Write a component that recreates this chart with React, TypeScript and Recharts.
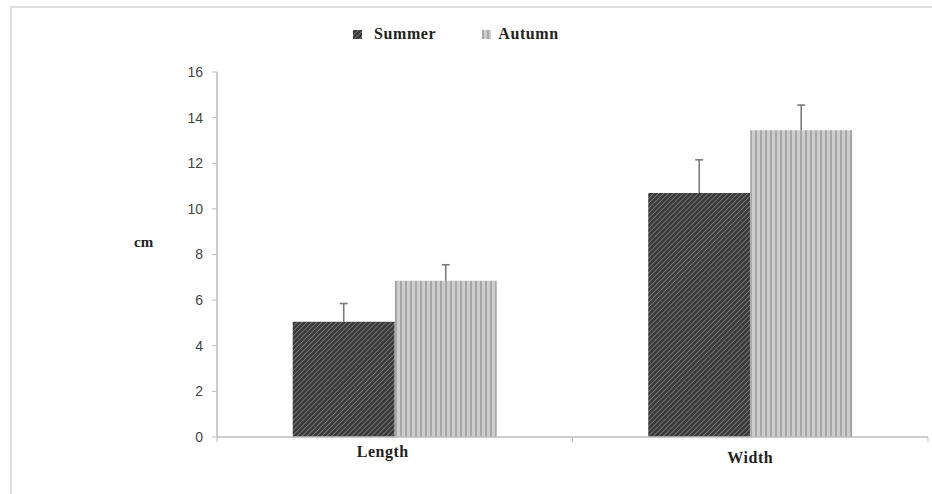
import React from 'react';
import { BarChart, Bar, XAxis, YAxis, Legend, Label, Rectangle } from 'recharts';

const categories = ['Length', 'Width'];
const summerValues = [5.05, 10.7];
const autumnValues = [6.85, 13.45];
const summerErrors = [0.8, 1.45];
const autumnErrors = [0.7, 1.1];
const yTicks = [0, 2, 4, 6, 8, 10, 12, 14, 16];
const seriesNames = ['Summer', 'Autumn'];

const data = categories.map((c, i) => ({
  name: c,
  summer: summerValues[i],
  autumn: autumnValues[i],
  summerErr: summerErrors[i],
  autumnErr: autumnErrors[i],
}));

const serif = '"Liberation Serif", "Times New Roman", serif';
const sans = '"Liberation Sans", Arial, sans-serif';

const PatternDefs = () => (
  <defs>
    <pattern id="summerPat" width="3.5" height="3.5" patternUnits="userSpaceOnUse" patternTransform="rotate(45)">
      <rect width="3.5" height="3.5" fill="#3a3a3a" />
      <line x1="0" y1="0" x2="0" y2="3.5" stroke="#8a8a8a" strokeWidth="1.4" />
    </pattern>
    <pattern id="autumnPat" width="5" height="5" patternUnits="userSpaceOnUse">
      <rect width="5" height="5" fill="#cdcdcd" />
      <line x1="1" y1="0" x2="1" y2="5" stroke="#9e9e9e" strokeWidth="1.6" />
    </pattern>
  </defs>
);

const LegendContent = () => (
  <div style={{ display: 'flex', alignItems: 'center', fontFamily: serif, fontWeight: 'bold', fontSize: 16, letterSpacing: 0.6, color: '#222' }}>
    <svg width="9" height="9" style={{ marginRight: 12 }}>
      <rect width="9" height="9" fill="url(#summerPat)" />
    </svg>
    <span style={{ marginRight: 46 }}>{seriesNames[0]}</span>
    <svg width="9" height="9" style={{ marginRight: 7 }}>
      <rect width="9" height="9" fill="url(#autumnPat)" />
    </svg>
    <span>{seriesNames[1]}</span>
  </div>
);

const XTick = (props: any) => {
  const { x, y, payload, index, width } = props;
  const half = width / categories.length / 2;
  return (
    <g>
      <line x1={x - half} y1={y - 8} x2={x - half} y2={y - 3} stroke="#bdbdbd" />
      {index === categories.length - 1 && (
        <line x1={x + half} y1={y - 8} x2={x + half} y2={y - 3} stroke="#bdbdbd" />
      )}
      <text x={x - (index === 0 ? 12 : 0)} y={y + 12 + index * 6} textAnchor="middle" fontFamily={serif} fontWeight="bold" fontSize={16} letterSpacing={0.5} fill="#222">
        {payload.value}
      </text>
    </g>
  );
};

const makeShape = (valKey: string, errKey: string) => (props: any) => {
  const { x, y, width, height, fill, payload } = props;
  const val = payload[valKey];
  const perUnit = val ? height / val : 0;
  const top = y - payload[errKey] * perUnit;
  const cx = x + width / 2;
  return (
    <g>
      <Rectangle x={x} y={y} width={width} height={height} fill={fill} />
      <line x1={cx} y1={y} x2={cx} y2={top} stroke="#7a7a7a" strokeWidth={1.6} />
      <line x1={cx - 4} y1={top} x2={cx + 4} y2={top} stroke="#7a7a7a" strokeWidth={1.6} />
    </g>
  );
};

const summerShape = makeShape('summer', 'summerErr');
const autumnShape = makeShape('autumn', 'autumnErr');

export default function App() {
  return (
    <div style={{ position: 'absolute', left: 0, top: 0, width: 932, height: 494, background: '#fff', overflow: 'hidden' }}>
      <div style={{ position: 'absolute', left: 10, top: 6, width: 940, height: 500, borderTop: '2px solid #dedede', borderLeft: '2px solid #dedede' }} />
      <div style={{ position: 'absolute', left: 0, top: 0 }}>
        <BarChart
          width={932}
          height={494}
          data={data}
          margin={{ top: 72, right: 4, bottom: 27, left: 0 }}
          barCategoryGap="21.3%"
          barGap={0}
        >
          <PatternDefs />
          <XAxis
            dataKey="name"
            height={30}
            axisLine={{ stroke: '#bdbdbd', strokeWidth: 1.5 }}
            tickLine={false}
            tick={<XTick />}
            interval={0}
          />
          <YAxis
            width={217}
            domain={[0, 16]}
            ticks={yTicks}
            interval={0}
            axisLine={{ stroke: '#bdbdbd', strokeWidth: 1.5 }}
            tickLine={{ stroke: '#bdbdbd' }}
            tickSize={5}
            tickMargin={9}
            tick={{ fontFamily: sans, fontSize: 14, fill: '#444' }}
          >
            <Label value="cm" position="insideLeft" offset={134} dy={-13} style={{ fontFamily: serif, fontWeight: 'bold', fontSize: 15, fill: '#222' }} />
          </YAxis>
          <Legend
            layout="horizontal"
            verticalAlign="middle"
            align="center"
            content={<LegendContent />}
            wrapperStyle={{ top: 25, left: 353, width: 'auto' }}
          />
          <Bar dataKey="summer" name={seriesNames[0]} fill="url(#summerPat)" shape={summerShape} isAnimationActive={false} />
          <Bar dataKey="autumn" name={seriesNames[1]} fill="url(#autumnPat)" shape={autumnShape} isAnimationActive={false} />
        </BarChart>
      </div>
    </div>
  );
}
